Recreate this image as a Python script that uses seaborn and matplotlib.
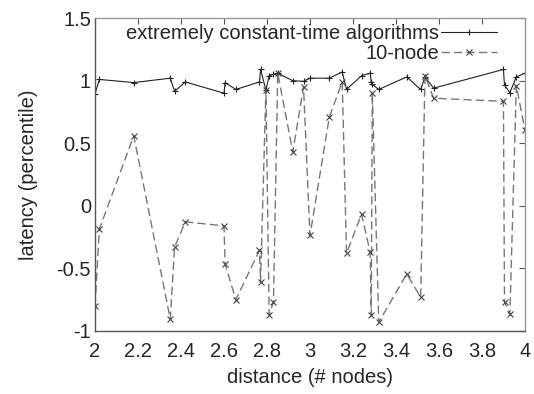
import matplotlib
matplotlib.use("Agg")
import matplotlib.pyplot as plt
import seaborn as sns
import pandas as pd

# distance (# nodes), shared by both series
distance = [2.00, 2.02, 2.18, 2.35, 2.37, 2.42, 2.60, 2.605, 2.655, 2.765,
            2.77, 2.795, 2.81, 2.83, 2.85, 2.92, 2.97, 3.00, 3.09, 3.15,
            3.17, 3.24, 3.28, 3.285, 3.29, 3.32, 3.45, 3.515, 3.535, 3.575,
            3.90, 3.905, 3.93, 3.96, 4.00]

constant_time = [0.895, 1.01, 0.985, 1.02, 0.915, 0.99, 0.90, 0.985, 0.93, 0.99,
                 1.09, 0.925, 1.04, 1.05, 1.06, 1.00, 0.995, 1.02, 1.02, 1.07,
                 0.93, 1.04, 1.06, 0.99, 0.97, 0.93, 1.03, 0.93, 1.03, 0.94,
                 1.09, 0.965, 0.905, 1.03, 1.06]

ten_node = [-0.80, -0.186, 0.56, -0.905, -0.33, -0.128, -0.16, -0.466, -0.75, -0.355,
            -0.61, 0.925, -0.87, -0.77, 1.06, 0.43, 0.95, -0.235, 0.71, 0.99,
            -0.38, -0.066, -0.37, -0.87, 0.905, -0.93, -0.545, -0.73, 1.04, 0.86,
            0.835, -0.77, -0.865, 0.96, 0.605]

series_names = ["extremely constant-time algorithms", "10-node"]
x_ticks = [2, 2.2, 2.4, 2.6, 2.8, 3, 3.2, 3.4, 3.6, 3.8, 4]
y_ticks = [-1, -0.5, 0, 0.5, 1, 1.5]

sns.set_theme(style="white")
plt.rcParams['font.family'] = ['Liberation Sans', 'DejaVu Sans']
plt.rcParams['font.size'] = 14.5

df = pd.DataFrame({"distance": distance + distance,
                   "latency": constant_time + ten_node,
                   "series": [series_names[0]] * len(distance) + [series_names[1]] * len(distance)})

fig = plt.figure(figsize=(5.34, 3.94), dpi=100)
ax = fig.add_axes([0.178, 0.160, 0.805, 0.794])

sns.lineplot(data=df[df.series == series_names[0]], x="distance", y="latency",
             ax=ax, color="#222222", lw=0.8, marker="+", markersize=5,
             markeredgewidth=0.8, markeredgecolor="#222222",
             estimator=None, sort=False, label=series_names[0])
sns.lineplot(data=df[df.series == series_names[1]], x="distance", y="latency",
             ax=ax, color="#777777", lw=1.0, marker="x", markersize=4,
             markeredgewidth=0.8, markeredgecolor="#444444", dashes=(6, 3),
             estimator=None, sort=False, label=series_names[1])

ax.set_xlim(2, 4)
ax.set_ylim(-1, 1.5)
ax.set_xticks(x_ticks)
ax.set_xticklabels([f"{t:g}" for t in x_ticks])
ax.set_yticks(y_ticks)
ax.set_yticklabels([f"{t:g}" for t in y_ticks])
ax.tick_params(direction="in", length=4, width=0.8, color="#555555",
               top=True, right=True, labelsize=14.5)
ax.tick_params(axis="x", pad=8)
ax.tick_params(axis="y", pad=3)

for side in ["top", "right"]:
    ax.spines[side].set_color("#999999")
for side in ["bottom", "left"]:
    ax.spines[side].set_color("#555555")
for s in ax.spines.values():
    s.set_linewidth(1.0)

ax.set_xlabel("distance (# nodes)", fontsize=14.5, labelpad=5)
ax.set_ylabel("latency (percentile)", fontsize=14.5, labelpad=13)

ax.legend(loc="upper right", bbox_to_anchor=(0.945, 0.995), frameon=False,
          markerfirst=False, fontsize=14.5, handlelength=2.8, handletextpad=0.1,
          labelspacing=0.05, borderaxespad=0.0, borderpad=0.2)

fig.savefig("out.png", dpi=100)
plt.close(fig)
